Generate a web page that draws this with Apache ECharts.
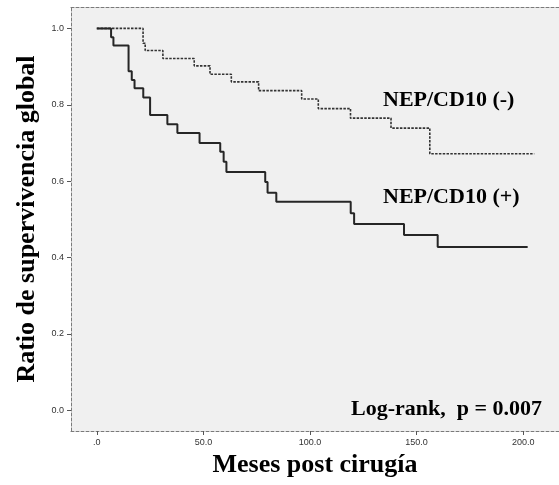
<!DOCTYPE html>
<html lang="es">
<head>
    <meta charset="UTF-8">
    <title>Ratio de supervivencia global</title>
    <script type="text/javascript" src="https://cdn.jsdelivr.net/npm/echarts@6/dist/echarts.min.js"></script>
    <style>
        html, body {margin: 0; padding: 0; background: #fff;}
        #km {width: 559px; height: 485px;}
    </style>
</head>
<body>
<div id="km"></div>
<script>
    // curva NEP/CD10 (+)
    var mesesPos = [0, 6.7, 7.8, 14.9, 16.4, 17.7, 21.8, 25.0, 33.1, 37.8, 48.2, 57.9, 59.5, 60.8,
        79.0, 80.1, 84.2, 119.1, 120.7, 144.1, 159.9, 202.1];
    var survPos = [1.0, 0.977, 0.955, 0.888, 0.865, 0.843, 0.819, 0.773, 0.749, 0.726, 0.700, 0.677, 0.651, 0.624,
        0.598, 0.570, 0.546, 0.516, 0.488, 0.459, 0.428, 0.428];
    // curva NEP/CD10 (-)
    var mesesNeg = [0, 21.7, 22.7, 31.0, 45.7, 53.1, 63.1, 75.9, 96.1, 103.9, 119.0, 138.0, 156.2, 205.2];
    var survNeg = [1.0, 0.961, 0.942, 0.921, 0.902, 0.880, 0.860, 0.837, 0.815, 0.790, 0.765, 0.739, 0.672, 0.672];

    var xTicks = [0, 50, 100, 150, 200];
    var yTicks = [0, 0.2, 0.4, 0.6, 0.8, 1.0];

    function pares(xs, ys) {
        var out = [];
        for (var i = 0; i < xs.length; i++) out.push([xs[i], ys[i]]);
        return out;
    }

    var serif = '"Liberation Serif", "Times New Roman", serif';
    var marco = {show: true, onZero: false, lineStyle: {color: '#7a7a7a', type: [3, 2], width: 1}};

    var option = {
        animation: false,
        grid: {left: 71, top: 7, right: 0, bottom: 54, show: true, backgroundColor: '#f0f0f0', borderWidth: 0},
        xAxis: [{
            type: 'value', min: -12.1, max: 216.8,
            name: 'Meses post cirugía', nameLocation: 'middle', nameGap: 21,
            nameTextStyle: {fontFamily: serif, fontWeight: 'bold', fontSize: 26, color: '#000'},
            axisLine: marco,
            axisTick: {show: true, length: 4, lineStyle: {color: '#555'}, customValues: xTicks},
            axisLabel: {
                color: '#333', fontSize: 9, fontFamily: 'Arial, "Liberation Sans"', margin: 7,
                customValues: xTicks,
                formatter: function (v) { return v === 0 ? '.0' : v.toFixed(1); }
            },
            splitLine: {show: false}
        }, {
            type: 'value', position: 'top', min: -12.1, max: 216.8,
            axisLine: marco, axisTick: {show: false}, axisLabel: {show: false}, splitLine: {show: false}
        }],
        yAxis: {
            type: 'value', min: -0.054, max: 1.056,
            name: 'Ratio de supervivencia global', nameLocation: 'middle', nameGap: 29,
            nameTextStyle: {fontFamily: serif, fontWeight: 'bold', fontSize: 26, color: '#000'},
            axisLine: marco,
            axisTick: {show: true, length: 4, lineStyle: {color: '#555'}, customValues: yTicks},
            axisLabel: {
                color: '#333', fontSize: 9, fontFamily: 'Arial, "Liberation Sans"', margin: 7,
                customValues: yTicks,
                formatter: function (v) { return v.toFixed(1); }
            },
            splitLine: {show: false}
        },
        series: [{
            name: 'NEP/CD10 (-)', type: 'line', step: 'end', showSymbol: false,
            data: pares(mesesNeg, survNeg),
            lineStyle: {color: '#333', width: 1.6, type: [2.5, 1.3]}
        }, {
            name: 'NEP/CD10 (+)', type: 'line', step: 'end', showSymbol: false,
            data: pares(mesesPos, survPos),
            lineStyle: {color: '#262626', width: 2}
        }],
        graphic: [{
            type: 'text', left: 383, top: 89,
            style: {text: 'NEP/CD10 (-)', font: 'bold 22px ' + serif, fill: '#000'}
        }, {
            type: 'text', left: 383, top: 186,
            style: {text: 'NEP/CD10 (+)', font: 'bold 22px ' + serif, fill: '#000'}
        }, {
            type: 'text', right: 17, top: 398,
            style: {text: 'Log-rank,  p = 0.007', font: 'bold 22px ' + serif, fill: '#000'}
        }]
    };

    var myChart = echarts.init(document.getElementById('km'));
    myChart.setOption(option);
</script>
</body>
</html>
